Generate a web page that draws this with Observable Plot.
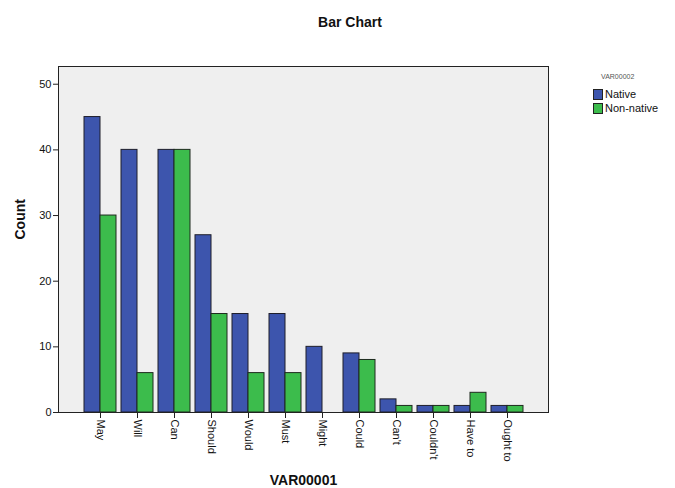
<!DOCTYPE html>
<html>
<head>
<meta charset="utf-8">
<script src="https://cdn.jsdelivr.net/npm/d3@7"></script>
<script src="https://cdn.jsdelivr.net/npm/@observablehq/plot@0.6"></script>
<style>
  body { margin: 0; background: #fff; font-family: "Liberation Sans", Arial, sans-serif; }
  #wrap { position: relative; width: 675px; height: 488px; }
  #title { position: absolute; left: 0; width: 700px; top: 14px; text-align: center; font-weight: bold; font-size: 14px; color: #111; }
  #legend { position: absolute; left: 593px; top: 73px; font-size: 11px; color: #111; }
  #legend .head { font-size: 7px; color: #555; margin-left: 8px; margin-bottom: 7px; }
  #legend .row { display: flex; align-items: center; height: 14px; }
  #legend .sw { width: 10px; height: 11px; border: 1px solid #222; margin-right: 2px; box-sizing: border-box; }
</style>
</head>
<body>
<div id="wrap">
  <div id="title">Bar Chart</div>
  <div id="legend"></div>
</div>
<script>
const categories = ["May", "Will", "Can", "Should", "Would", "Must", "Might", "Could", "Can't", "Couldn't", "Have to", "Ought to"];
const series = ["Native", "Non-native"];
const nativeCounts = [45, 40, 40, 27, 15, 15, 10, 9, 2, 1, 1, 1];
const nonNativeCounts = [30, 6, 40, 15, 6, 6, 0, 8, 1, 1, 3, 1];
const colors = ["#3d55ad", "#3cbc4c"];
const yTicks = [0, 10, 20, 30, 40, 50];

const nativeData = categories.map((c, i) => ({category: c, series: series[0], count: nativeCounts[i]}));
const nonNativeData = categories.map((c, i) => ({category: c, series: series[1], count: nonNativeCounts[i]}));

const plot = Plot.plot({
  width: 675,
  height: 488,
  marginLeft: 58,
  marginRight: 127,
  marginTop: 66,
  marginBottom: 76,
  style: {fontFamily: "Liberation Sans, Arial, sans-serif", fontSize: "11px", color: "#111", background: "transparent"},
  x: {domain: categories, paddingInner: 0.14, paddingOuter: 0.656, label: null},
  y: {domain: [0, 52.7], label: null},
  color: {domain: series, range: colors},
  marks: [
    Plot.frame({fill: "#efefef", stroke: "none"}),
    Plot.barY(nativeData, {x: "category", y: "count", fill: "series", stroke: "#1e1e2a", strokeWidth: 1, insetRight: 16}),
    Plot.barY(nonNativeData, {x: "category", y: "count", fill: "series", stroke: "#1e2a1e", strokeWidth: 1, insetLeft: 16}),
    Plot.frame({stroke: "#222", strokeWidth: 1}),
    Plot.axisY({ticks: yTicks, tickSize: 5, tickPadding: 2, label: null, stroke: "#222", fontSize: 11}),
    Plot.axisX({tickSize: 6, tickRotate: 90, tickPadding: 1, label: null, stroke: "#222", fontSize: 11}),
    Plot.text(["Count"], {frameAnchor: "left", dx: -38, rotate: -90, fontWeight: "bold", fontSize: 14, fill: "#111"}),
    Plot.text(["VAR00001"], {frameAnchor: "bottom", dy: 72, dx: 0, fontWeight: "bold", fontSize: 14, fill: "#111"})
  ]
});
document.getElementById("wrap").appendChild(plot);

const legend = document.getElementById("legend");
legend.innerHTML = `<div class="head">VAR00002</div>` + series.map((s, i) =>
  `<div class="row"><div class="sw" style="background:${colors[i]}"></div><span>${s}</span></div>`).join("");
</script>
</body>
</html>
